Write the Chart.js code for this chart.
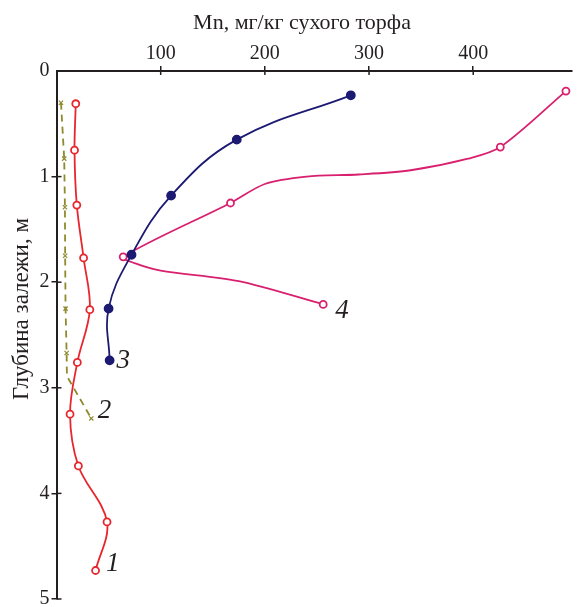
<!DOCTYPE html>
<html>
<head>
<meta charset="utf-8">
<script src="https://cdn.jsdelivr.net/npm/chart.js@4.4.0/dist/chart.umd.min.js"></script>
<style>
html, body { margin: 0; padding: 0; background: #fff; }
#wrap { width: 578px; height: 607px; }
</style>
</head>
<body>
<div id="wrap"><canvas id="mnChart"></canvas></div>
<script>
// Mn, mg/kg vs depth, m (measured points)
const mn1 = [18.5, 17.3, 19.5, 26, 32, 20, 13, 21, 48.5, 37.5];
const depth1 = [0.31, 0.75, 1.27, 1.77, 2.26, 2.76, 3.25, 3.74, 4.27, 4.73];

const mn2 = [4.3, 7.4, 8.1, 8.3, 8.7, 9.7, 33.4];
const depth2 = [0.30, 0.83, 1.29, 1.75, 2.25, 2.67, 3.29];
// bend of the dashed line (no marker)
const bendMn2 = [10];
const bendDepth2 = [2.89];

const mn3 = [282.5, 173, 110, 72, 50, 51];
const depth3 = [0.23, 0.65, 1.18, 1.74, 2.25, 2.74];

const mn4 = [489, 426, 167, 64, 256];
const depth4 = [0.19, 0.72, 1.25, 1.76, 2.21];
// hand drawn parts of curve 4 (no marker)
const bendMn4 = [395, 340, 290, 240, 200, 75, 100, 175];
const bendDepth4 = [0.83, 0.94, 0.98, 1.00, 1.07, 1.82, 1.89, 1.99];

// curve numbers
const curveLabels = ['1', '2', '3', '4'];
const labelMn = [54, 46, 64, 274];
const labelDepth = [4.67, 3.22, 2.75, 2.27];

const xTicks = [100, 200, 300, 400];
const yTicks = [0, 1, 2, 3, 4, 5];
const xTitle = 'Mn, мг/кг сухого торфа';
const yTitle = 'Глубина залежи, м';

const ink = '#231f20';
const serif = '"Liberation Serif", "DejaVu Serif", serif';

function pairs(xs, ys) {
    return xs.map((v, i) => ({ x: v, y: ys[i] }));
}
// line goes through measured + bend points, ordered by depth
function trace(xs, ys, bx, by) {
    return pairs(xs.concat(bx), ys.concat(by)).sort((a, b) => a.y - b.y);
}

function lineSet(data, color, tension, dash) {
    return {
        data: data,
        showLine: true,
        borderColor: color,
        borderWidth: 1.8,
        borderDash: dash || [],
        tension: tension,
        pointRadius: 0,
        order: 2
    };
}
function markSet(data, color, style, filled, r) {
    return {
        data: data,
        showLine: false,
        pointStyle: style,
        pointRadius: r,
        pointBorderWidth: style === 'crossRot' ? 1.2 : 1.8,
        pointBorderColor: color,
        pointBackgroundColor: filled ? color : '#fff',
        order: 1
    };
}

const decor = {
    id: 'decor',
    afterDraw(chart) {
        const { ctx, scales: { x, y } } = chart;
        ctx.save();
        // inner halves of the tick marks
        ctx.strokeStyle = ink;
        ctx.lineWidth = 1.5;
        xTicks.forEach(v => {
            const px = x.getPixelForValue(v);
            ctx.beginPath();
            ctx.moveTo(px, x.bottom);
            ctx.lineTo(px, x.bottom + 4);
            ctx.stroke();
        });
        yTicks.forEach(v => {
            if (v === 0) return;
            const py = y.getPixelForValue(v);
            ctx.beginPath();
            ctx.moveTo(y.right, py);
            ctx.lineTo(y.right + 5, py);
            ctx.stroke();
        });

        // axis titles
        ctx.fillStyle = ink;
        ctx.font = '22px ' + serif;
        ctx.textAlign = 'center';
        ctx.textBaseline = 'alphabetic';
        ctx.fillText(xTitle, 302, 29);

        ctx.save();
        ctx.translate(22, 309);
        ctx.rotate(-Math.PI / 2);
        ctx.font = '23px ' + serif;
        ctx.textBaseline = 'middle';
        ctx.fillText(yTitle, 0, 0);
        ctx.restore();

        // curve numbers
        ctx.font = 'italic 27px ' + serif;
        ctx.textBaseline = 'middle';
        curveLabels.forEach((t, i) => {
            ctx.fillText(t, x.getPixelForValue(labelMn[i]), y.getPixelForValue(labelDepth[i]));
        });
        ctx.restore();
    }
};

const hideZero = c => (c.tick && c.tick.value === 0) ? 'rgba(0,0,0,0)' : ink;

new Chart(document.getElementById('mnChart'), {
    type: 'scatter',
    data: {
        datasets: [
            lineSet(pairs(mn1, depth1), '#e8262d', 0.35),
            markSet(pairs(mn1, depth1), '#e8262d', 'circle', false, 3.5),
            lineSet(trace(mn2, depth2, bendMn2, bendDepth2), '#8f8a2c', 0, [7, 5]),
            markSet(pairs(mn2, depth2), '#8f8a2c', 'crossRot', false, 3),
            lineSet(pairs(mn3, depth3), '#1c1a72', 0.4),
            markSet(pairs(mn3, depth3), '#1c1a72', 'circle', true, 4),
            lineSet(trace(mn4, depth4, bendMn4, bendDepth4), '#d8206f', 0.3),
            markSet(pairs(mn4, depth4), '#d8206f', 'circle', false, 3.5)
        ]
    },
    options: {
        responsive: true,
        maintainAspectRatio: false,
        animation: false,
        layout: { padding: { top: 0, right: 0, bottom: 8, left: 0 } },
        plugins: {
            legend: { display: false },
            tooltip: { enabled: false }
        },
        scales: {
            x: {
                type: 'linear',
                position: 'top',
                min: 0,
                max: 495,
                afterBuildTicks: s => { s.ticks = [0].concat(xTicks).map(v => ({ value: v })); },
                afterFit: s => { s.height = 71; s.paddingLeft = 0; s.paddingRight = 0; },
                ticks: {
                    callback: v => v === 0 ? '' : v,
                    color: ink,
                    padding: 0,
                    maxRotation: 0,
                    font: { family: serif, size: 20 }
                },
                grid: { drawOnChartArea: false, tickLength: 5, lineWidth: 1.5, color: hideZero },
                border: { color: ink, width: 2 }
            },
            y: {
                type: 'linear',
                reverse: true,
                min: 0,
                max: 5,
                afterBuildTicks: s => { s.ticks = yTicks.map(v => ({ value: v })); },
                afterFit: s => { s.width = 56.5; s.paddingTop = 0; s.paddingBottom = 0; },
                ticks: {
                    color: ink,
                    padding: 2,
                    font: { family: serif, size: 20 }
                },
                grid: { drawOnChartArea: false, tickLength: 5, lineWidth: 1.5, color: hideZero },
                border: { color: ink, width: 2 }
            }
        }
    },
    plugins: [decor]
});
</script>
</body>
</html>
